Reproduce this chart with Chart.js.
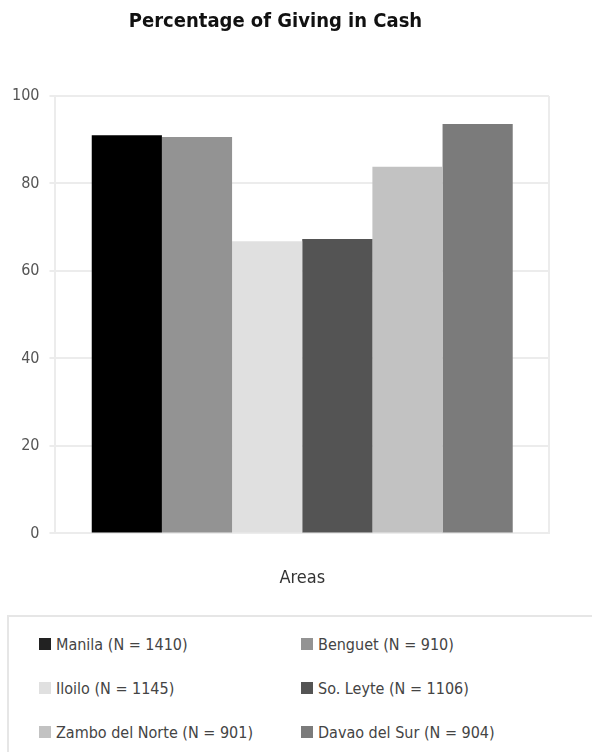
<!DOCTYPE html>
<html>
<head>
<meta charset="utf-8">
<script src="https://cdn.jsdelivr.net/npm/chart.js@4.4.1/dist/chart.umd.min.js"></script>
<style>
    body { margin: 0; background: #fff; }
    #wrap { position: relative; width: 592px; height: 752px; overflow: hidden; }
    #cashChart { position: absolute; left: 0; top: 0; }
    #legend {
        position: absolute; left: 7px; top: 615px; width: 600px; height: 140px;
        border: 2px solid #e6e6e6; box-sizing: border-box;
        display: grid; grid-template-columns: 262px 300px; grid-auto-rows: 44px;
        padding: 5px 0 0 30px;
        font-family: "Liberation Sans Narrow", "DejaVu Sans Condensed", sans-serif;
        font-size: 16px; color: #444;
    }
    .item { display: flex; align-items: center; }
    .box { width: 12px; height: 12px; margin-right: 5px; }
</style>
</head>
<body>
<div id="wrap">
    <canvas id="cashChart" width="592" height="610"></canvas>
    <div id="legend"></div>
</div>
<script>
const areas = ["Manila (N = 1410)", "Benguet (N = 910)", "Iloilo (N = 1145)", "So. Leyte (N = 1106)", "Zambo del Norte (N = 901)", "Davao del Sur (N = 904)"];
const cashPercent = [91.0, 90.6, 66.8, 67.3, 83.8, 93.6];
const barColors = ["#000000", "#939393", "#e0e0e0", "#545454", "#c2c2c2", "#7b7b7b"];
const legendColors = ["#222222", "#939393", "#e0e0e0", "#545454", "#c2c2c2", "#7b7b7b"];
const yTicks = [0, 20, 40, 60, 80, 100];

const fontFamily = '"Liberation Sans Narrow", "DejaVu Sans Condensed", sans-serif';

const datasets = areas.map((name, i) => ({
    label: name,
    data: [cashPercent[i]],
    backgroundColor: barColors[i],
    borderWidth: 0
}));

const ctx = document.getElementById('cashChart').getContext('2d');
const chart = new Chart(ctx, {
    type: 'bar',
    data: {
        labels: ["Areas"],
        datasets: datasets
    },
    options: {
        responsive: false,
        animation: false,
        layout: { padding: { left: 2, right: 43, top: 8, bottom: 11 } },
        categoryPercentage: 0.853,
        barPercentage: 1,
        plugins: {
            legend: { display: false },
            tooltip: { enabled: false },
            title: {
                display: true,
                text: "Percentage of Giving in Cash",
                color: '#111',
                font: { family: fontFamily, size: 20, weight: 'bold' },
                padding: { top: 2, bottom: 62 }
            }
        },
        scales: {
            x: {
                grid: { color: '#ececec', lineWidth: 2, drawTicks: false },
                border: { color: '#ececec', width: 2 },
                ticks: { display: false },
                title: {
                    display: true,
                    text: "Areas",
                    color: '#333',
                    font: { family: fontFamily, size: 18 },
                    padding: { top: 34, bottom: 10 }
                }
            },
            y: {
                min: 0,
                max: 100,
                afterBuildTicks: axis => { axis.ticks = yTicks.map(v => ({ value: v })); },
                grid: { color: '#ececec', lineWidth: 2, tickLength: 6 },
                border: { color: '#ececec', width: 2 },
                ticks: {
                    color: '#555',
                    padding: 10,
                    font: { family: fontFamily, size: 16 }
                }
            }
        }
    }
});

const legendEl = document.getElementById('legend');
areas.forEach((name, i) => {
    const item = document.createElement('div');
    item.className = 'item';
    const box = document.createElement('span');
    box.className = 'box';
    box.style.background = legendColors[i];
    const txt = document.createElement('span');
    txt.textContent = name;
    item.appendChild(box);
    item.appendChild(txt);
    legendEl.appendChild(item);
});
</script>
</body>
</html>
